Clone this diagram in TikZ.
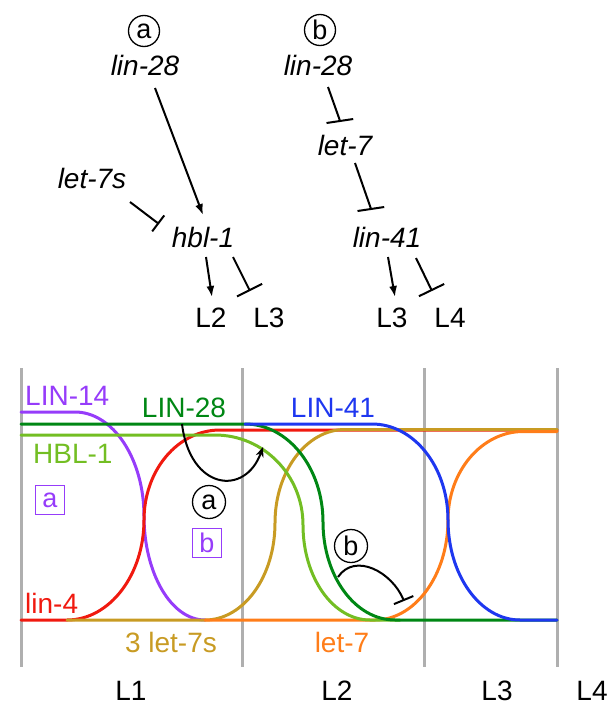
\documentclass[tikz,border=0pt]{standalone}
\usepackage{fontspec}
\setmainfont{Liberation Sans}
\usetikzlibrary{arrows.meta,calc}
\definecolor{cPurple}{RGB}{150,60,250}
\definecolor{cRed}{RGB}{240,25,15}
\definecolor{cGold}{RGB}{200,155,35}
\definecolor{cOrange}{RGB}{255,125,25}
\definecolor{cLight}{RGB}{115,190,35}
\definecolor{cDark}{RGB}{0,135,20}
\definecolor{cBlue}{RGB}{30,55,240}
\definecolor{cGray}{RGB}{175,175,175}
\begin{document}
\begin{tikzpicture}[x=1pt,y=-1pt,
  txt/.style={inner sep=0pt, font=\fontsize{28}{32}\selectfont},
  gene/.style={inner sep=0pt, font=\fontsize{28}{32}\selectfont\itshape},
  circ/.style={draw, circle, line width=1.3pt, inner sep=0pt, minimum size=#1, font=\fontsize{27}{30}\selectfont},
  pbox/.style={draw=cPurple, text=cPurple, line width=1.2pt, inner sep=0pt, minimum size=29pt, font=\fontsize{27}{30}\selectfont},
  act/.style={line width=2pt, -{Latex[length=11pt,width=8pt]}},
  inh/.style={line width=2pt, -{Bar[width=#1]}},
  cv/.style={line width=3pt, line cap=round},
  stage/.style={line width=3pt, cGray}
]
\useasboundingbox (0,0) rectangle (614,707);

% ---------- top: (a) ----------
\node[circ=31pt] (ca) at (144,31) {a};
\node[gene, anchor=base] (lin28a) at (145,75) {lin-28};
\node[gene, anchor=base] (let7s) at (92,188) {let-7s};
\node[gene, anchor=base] (hbl) at (203,247) {hbl-1};
\node[txt, anchor=base] (L2a) at (211,327) {L2};
\node[txt, anchor=base] (L3a) at (269,327) {L3};

\draw[act] ($(lin28a.base)+(10,13)$) -- ($(hbl.base)+(0,-32)$);
\draw[inh=20pt] ($(let7s.base)+(38,14)$) -- ($(hbl.base)+(-44,-23)$);
\draw[act] ($(hbl.base)+(3,10)$) -- ($(L2a.base)+(1,-30)$);
\draw[inh=28pt] ($(hbl.base)+(30,10)$) -- ($(L3a.base)+(-19,-36)$);

% ---------- top: (b) ----------
\node[circ=31pt] (cb) at (320,30) {b};
\node[gene, anchor=base] (lin28b) at (318,75) {lin-28};
\node[gene, anchor=base] (let7) at (345,155) {let-7};
\node[gene, anchor=base] (lin41) at (387,247) {lin-41};
\node[txt, anchor=base] (L3b) at (392,327) {L3};
\node[txt, anchor=base] (L4b) at (450,327) {L4};

\draw[inh=27pt] ($(lin28b.base)+(10,12)$) -- ($(let7.base)+(-5.3,-35)$) -- ($(let7.base)+(-5,-33)$);
\draw[inh=27pt] ($(let7.base)+(10,8)$) -- ($(lin41.base)+(-16.3,-39)$) -- ($(lin41.base)+(-16,-37)$);
\draw[act] ($(lin41.base)+(1,10)$) -- ($(L3b.base)+(3,-30)$);
\draw[inh=28pt] ($(lin41.base)+(29,11)$) -- ($(L4b.base)+(-18,-36)$);

% ---------- bottom: stages ----------
\foreach \x/\n in {21/s1,242/s2,424/s3,557/s4}{
  \coordinate (\n t) at (\x,368);
  \coordinate (\n b) at (\x,667);
  \draw[stage] (\n t) -- (\n b);
}

% curves (quarter-ellipse S shapes)
\draw[cv, cPurple] (21,412) -- (75,412) .. controls (113,412) and (144,459) .. (144,516) .. controls (144,573) and (171,620) .. (205,620);
\draw[cv, cRed] (21,620) -- (67,620) .. controls (109.5,620) and (144,575) .. (144,520) .. controls (144,470) and (178,430) .. (220,430) -- (557,430);
\draw[cv, cGold] (67,620) -- (205,620) .. controls (243.6,620) and (275,576.5) .. (275,523) .. controls (275,471.4) and (306.4,429.5) .. (345,429.5) -- (557,429.5);
\draw[cv, cOrange] (205,620) -- (375,620) .. controls (415,620) and (448,575) .. (448,520) .. controls (448,471) and (482,431.5) .. (523,431.5) -- (557,431.5);
\draw[cv, cLight] (21,435) -- (215,435) .. controls (263.6,435) and (303,475.3) .. (303,525) .. controls (303,577.4) and (333,620) .. (370,620) -- (400,620);
\draw[cv, cDark] (21,424) -- (245,424) .. controls (288,424) and (323,468) .. (323,522) .. controls (323,576) and (355,620) .. (395,620) -- (557,620);
\draw[cv, cBlue] (245,424) -- (372,424) .. controls (414,424) and (448,467) .. (448,520) .. controls (448,575) and (480,620) .. (520,620) -- (557,620);

% curve labels
\node[txt, text=cPurple, anchor=base west] (tLIN14) at (25,405) {LIN-14};
\node[txt, text=cDark, anchor=base] (tLIN28) at (184,417) {LIN-28};
\node[txt, text=cBlue, anchor=base] (tLIN41) at (333,417) {LIN-41};
\node[txt, text=cLight, anchor=base west] (tHBL) at (33,463) {HBL-1};
\node[txt, text=cRed, anchor=base west] (tlin4) at (25,613) {lin-4};
\node[txt, text=cGold, anchor=base] (tlet7s) at (171,652) {3 let-7s};
\node[txt, text=cOrange, anchor=base] (tlet7) at (342,652) {let-7};

\node[pbox] (boxa) at (50,500) {a};
\node[pbox] (boxb) at (207,543) {b};

% regulatory links on curves
\coordinate (a0) at (182,424);
\coordinate (a1) at (263,447);
\draw[line width=2pt, -{Stealth[length=10pt,width=8pt]}] (a0) .. controls (190,490) and (245,497) .. (a1);
\node[circ=33pt] (cla) at (209,502) {a};

\coordinate (b0) at (338,577);
\coordinate (b1) at (404,601);
\draw[line width=2pt, -{Bar[width=21pt]}] (b0) .. controls (355,552) and (392,572) .. (b1);
\node[circ=33pt] (clb) at (351,546) {b};

% stage labels
\node[txt, anchor=base] (L1) at (131,700) {L1};
\node[txt, anchor=base] (L2) at (337,700) {L2};
\node[txt, anchor=base] (L3) at (497,700) {L3};
\node[txt, anchor=base] (L4) at (592,700) {L4};
\end{tikzpicture}
\end{document}
